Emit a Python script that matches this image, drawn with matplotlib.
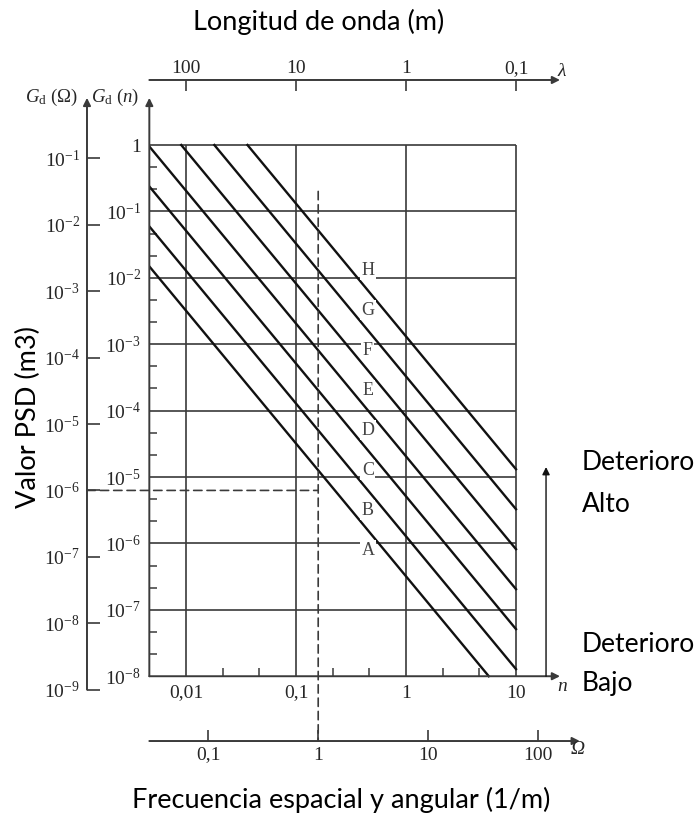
import numpy as np
import matplotlib
matplotlib.use('Agg')
import matplotlib.pyplot as plt
from matplotlib.ticker import NullLocator, NullFormatter

plt.rcParams['mathtext.fontset'] = 'custom'
plt.rcParams['mathtext.rm'] = 'Liberation Serif'
plt.rcParams['mathtext.it'] = 'Liberation Serif:italic'

# ISO 8608: limites entre clases, Gd(n0) con n0 = 0.1 1/m (m3)
n0 = 0.1
limites = [32e-6, 128e-6, 512e-6, 2048e-6, 8192e-6, 32768e-6, 131072e-6]
clases = ['A', 'B', 'C', 'D', 'E', 'F', 'G', 'H']
medias = [16e-6, 64e-6, 256e-6, 1024e-6, 4096e-6, 16384e-6, 65536e-6, 262144e-6]

n_ticks = [0.01, 0.1, 1, 10]
n_labels = ['0,01', '0,1', '1', '10']
lam_ticks = [100, 10, 1, 0.1]
lam_labels = ['100', '10', '1', '0,1']
om_ticks = [0.1, 1, 10, 100]
om_labels = ['0,1', '1', '10', '100']
gn_ticks = [1e-8, 1e-7, 1e-6, 1e-5, 1e-4, 1e-3, 1e-2, 1e-1, 1]
gn_labels = ['$10^{-8}$', '$10^{-7}$', '$10^{-6}$', '$10^{-5}$', '$10^{-4}$',
             '$10^{-3}$', '$10^{-2}$', '$10^{-1}$', '1']
go_ticks = [1e-9, 1e-8, 1e-7, 1e-6, 1e-5, 1e-4, 1e-3, 1e-2, 1e-1]
go_labels = ['$10^{-9}$', '$10^{-8}$', '$10^{-7}$', '$10^{-6}$', '$10^{-5}$',
             '$10^{-4}$', '$10^{-3}$', '$10^{-2}$', '$10^{-1}$']

# punto de ejemplo (lineas discontinuas): Omega = 1 rad/m, Gd(Omega) = 1e-6
omega_ej = 1.0
gd_omega_ej = 1e-6

n_lo, n_hi = 10**(-7/3), 10**1.63
y_lo, y_hi = 10**-9.9, 10**0.75
n_flecha = 10**1.4       # fin de los ejes n y lambda
n_omega_fin = 10**1.58
g_flecha = 10**0.71

gris = '#3a3a3a'
negro = '#111111'
txt = '#262626'
serif = 'Liberation Serif'
sans = 'Lato'
fs_tick = 14

fig = plt.figure(figsize=(6.97, 8.14), dpi=100)
ax = fig.add_axes([0.21425, 0.01425, 0.6255, 0.8688])
ax.set_xscale('log')
ax.set_yscale('log')
ax.set_xlim(n_lo, n_hi)
ax.set_ylim(y_lo, y_hi)
for s in ax.spines.values():
    s.set_visible(False)
ax.spines['bottom'].set_position(('data', 1e-8))


def one_over(x):
    x = np.array(x, float)
    cero = np.isclose(x, 0)
    x[cero] = np.inf
    x[~cero] = 1 / x[~cero]
    return x


def flecha(x0, y0, x1, y1, coords='data', lw=1.4, color=gris, cabeza=True):
    ax.annotate('', xy=(x1, y1), xytext=(x0, y0), xycoords=coords, textcoords=coords,
                arrowprops=dict(arrowstyle='-|>' if cabeza else '-', lw=lw, color=color,
                                shrinkA=0, shrinkB=0, mutation_scale=11),
                annotation_clip=False)


# rejilla y marco
ax.vlines(n_ticks, 1e-8, 1, color=gris, lw=1.2, zorder=1)
ax.hlines(gn_ticks[1:], n_lo, 10, color=gris, lw=1.2, zorder=1)

# rectas de separacion entre clases (pendiente -2)
for gb in limites:
    na = max(n_lo, n0 * np.sqrt(gb / 1.0))
    nb = min(10, n0 * np.sqrt(gb / 1e-8))
    ns = np.array([na, nb])
    ax.plot(ns, gb * (ns / n0) ** -2, color=negro, lw=1.7, zorder=2)

# letras de clase
n_letra = 0.45
for c, g in zip(clases, medias):
    ax.text(n_letra, g * (n_letra / n0) ** -2, c, ha='center', va='center',
            fontfamily=serif, fontsize=13, color='#444444', zorder=3,
            bbox=dict(fc='white', ec='none', pad=1.0))

# ejes n y Gd(n)
ax.set_yticks(gn_ticks, gn_labels)
ax.set_yticks([10**(k + f) for k in range(-8, 0) for f in (1/3, 2/3)], minor=True)
ax.yaxis.set_minor_formatter(NullFormatter())
ax.set_xticks(n_ticks, n_labels)
ax.set_xticks([10**(k + f) for k in range(-2, 1) for f in (1/3, 2/3)], minor=True)
ax.xaxis.set_minor_formatter(NullFormatter())
ax.tick_params(which='major', length=0, labelsize=fs_tick, labelcolor=txt, pad=6)
ax.tick_params(which='minor', direction='in', length=6, width=1.1, color=gris)
for t in ax.get_xticklabels() + ax.get_yticklabels():
    t.set_fontfamily(serif)

flecha(n_lo, 1e-8, n_flecha, 1e-8)
flecha(n_lo, 1e-8, n_lo, g_flecha)

# eje superior: longitud de onda
sup = ax.secondary_xaxis(1.0215, functions=(one_over, one_over))
sup.set_xticks(lam_ticks, lam_labels)
sup.xaxis.set_minor_locator(NullLocator())
sup.tick_params(which='major', direction='in', length=8, width=1.2, color=gris,
                labelsize=fs_tick, labelcolor=txt, pad=2)
sup.tick_params(which='minor', length=0)
flecha(n_lo, 1.0215, n_flecha, 1.0215, coords=('data', 'axes fraction'))

# eje inferior: frecuencia angular Omega
inf = ax.secondary_xaxis(0.0868, functions=(lambda n: 2 * np.pi * n, lambda w: w / (2 * np.pi)))
inf.set_xticks(om_ticks, om_labels)
inf.xaxis.set_minor_locator(NullLocator())
inf.tick_params(which='major', direction='in', length=8, width=1.2, color=gris,
                labelsize=fs_tick, labelcolor=txt, pad=4)
inf.tick_params(which='minor', length=0)
flecha(n_lo, 0.0868, n_omega_fin, 0.0868, coords=('data', 'axes fraction'))

# eje izquierdo: Gd(Omega)
izq = ax.secondary_yaxis(-0.143, functions=(lambda g: g / (2 * np.pi), lambda g: g * 2 * np.pi))
izq.set_yticks(go_ticks, go_labels)
izq.yaxis.set_minor_locator(NullLocator())
izq.tick_params(which='major', direction='in', length=9, width=1.2, color=gris,
                labelsize=fs_tick, labelcolor=txt, pad=5)
izq.tick_params(which='minor', length=0)
flecha(-0.143, 2 * np.pi * 1e-9, -0.143, g_flecha, coords=('axes fraction', 'data'))

for sa in (sup, inf, izq):
    for s in sa.spines.values():
        s.set_visible(False)
    for t in sa.get_xticklabels() + sa.get_yticklabels():
        t.set_fontfamily(serif)

# lineas discontinuas del ejemplo
n_ej = omega_ej / (2 * np.pi)
g_ej = gd_omega_ej * 2 * np.pi
ax.annotate('', xy=(n_ej, 0.0868), xytext=(n_ej, 0.2),
            xycoords=('data', 'axes fraction'), textcoords=('data', 'data'),
            arrowprops=dict(arrowstyle='-', lw=1.2, color=gris, linestyle=(0, (5, 3)),
                            shrinkA=0, shrinkB=0), annotation_clip=False)
ax.annotate('', xy=(n_ej, g_ej), xytext=(-0.143, g_ej),
            xycoords='data', textcoords=('axes fraction', 'data'),
            arrowprops=dict(arrowstyle='-', lw=1.2, color=gris, linestyle=(0, (5, 3)),
                            shrinkA=0, shrinkB=0), annotation_clip=False)

# nombres de los ejes (simbolos)
ax.text(10**1.37, 1.0215, r'$\lambda$', transform=ax.get_xaxis_transform(),
        ha='left', va='bottom', fontsize=14, color=txt)
ax.text(10**1.37, 1e-8, r'$n$', ha='left', va='top', fontsize=14, color=txt)
ax.text(10**1.5, 0.0868, 'Ω', transform=ax.get_xaxis_transform(), fontfamily=serif,
        style='italic', ha='left', va='top', fontsize=14, color=txt)
ax.text(10**-2.43, g_flecha, r'$G_{\mathrm{d}}\ (n)$', ha='right', va='center',
        fontsize=13.5, color=txt)
ax.text(-0.165, g_flecha, r'$G_{\mathrm{d}}\ (\mathit{Ω})$',
        transform=ax.get_yaxis_transform(), ha='right', va='center',
        fontsize=13.5, color=txt)

# flecha de deterioro
n_det = 10**1.273
flecha(n_det, 1e-8, n_det, 10**-4.85, lw=1.0, color=negro)

fig.text(319 / 697, 1 - 22 / 814, 'Longitud de onda (m)', ha='center', va='center',
         fontfamily=sans, fontsize=19.5)
fig.text(341 / 697, 1 - 800 / 814, 'Frecuencia espacial y angular (1/m)', ha='center',
         va='center', fontfamily=sans, fontsize=19.5)
fig.text(28 / 697, 1 - 417 / 814, 'Valor PSD (m3)', ha='center', va='center',
         rotation=90, fontfamily=sans, fontsize=19.5)
fig.text(582 / 697, 1 - 463 / 814, 'Deterioro', ha='left', va='center', fontfamily=sans, fontsize=19)
fig.text(582 / 697, 1 - 505 / 814, 'Alto', ha='left', va='center', fontfamily=sans, fontsize=19)
fig.text(582 / 697, 1 - 645 / 814, 'Deterioro', ha='left', va='center', fontfamily=sans, fontsize=19)
fig.text(582 / 697, 1 - 684 / 814, 'Bajo', ha='left', va='center', fontfamily=sans, fontsize=19)

fig.savefig('out.png', dpi=100)
